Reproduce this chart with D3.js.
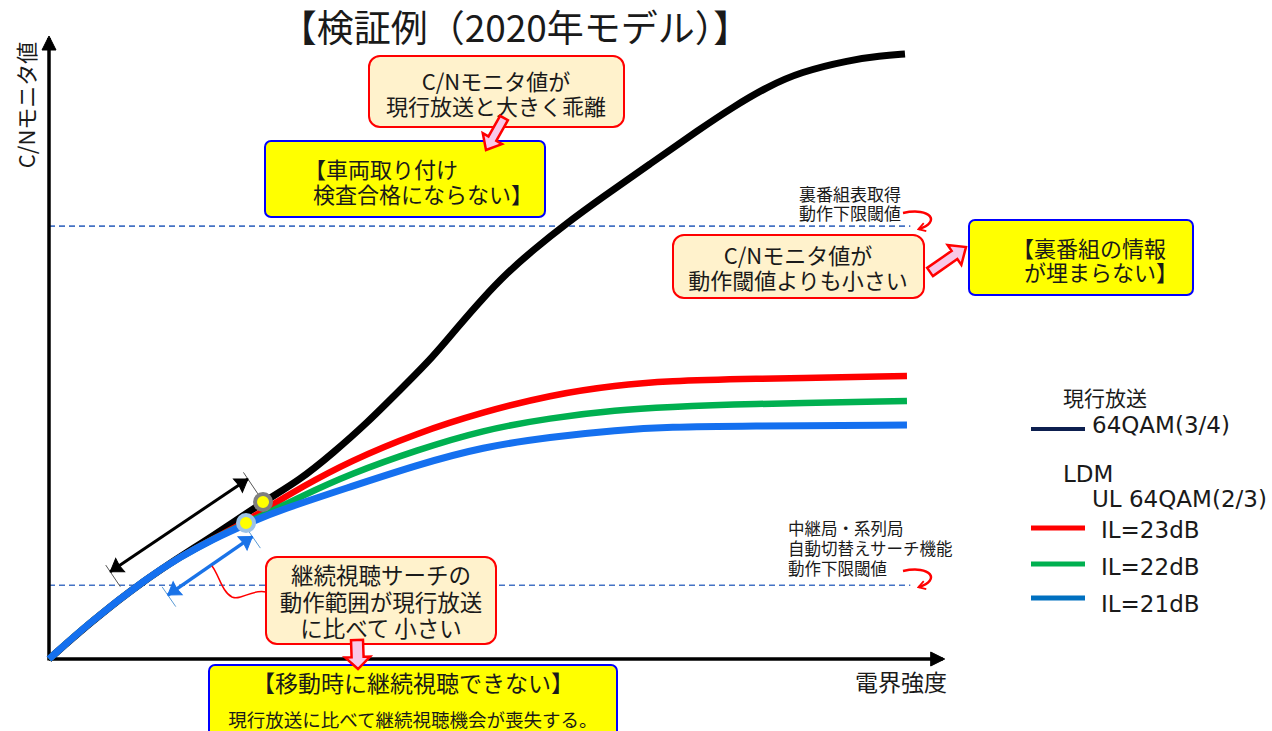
<!DOCTYPE html>
<html>
<head>
<meta charset="utf-8" />
<title>検証例（2020年モデル）</title>
<script src="https://cdn.jsdelivr.net/npm/d3@7"></script>
<style>
  body { margin: 0; background: #fff; }
  text { font-family: "Noto Sans CJK JP", "Noto Sans", sans-serif; fill: #1a1a1a; }
  text.lat { font-family: "DejaVu Sans", sans-serif; }
</style>
</head>
<body>
<div id="chart"></div>
<script>
// [電界強度, C/Nモニタ値] (arbitrary units)
var sharedLow = [[0, 0], [4.56, 4.11], [10.89, 9.0], [14.56, 11.33], [18.22, 13.33]];
var current64qam = [[0, 0], [4.56, 4.0], [9.0, 7.56], [13.44, 10.67], [18.22, 13.67], [23.78, 17.44],
  [27.89, 19.89], [31.56, 22.89], [35.33, 26.22], [39.0, 29.89], [42.67, 33.56], [45.33, 36.78],
  [48.22, 40.11], [50.89, 42.89], [53.78, 45.44], [57.56, 48.44], [61.22, 51.11], [66.78, 55.0],
  [72.33, 58.89], [76.0, 61.33], [79.78, 63.56], [83.44, 65.22], [89.0, 66.56], [92.33, 67.0], [95.11, 67.22]];
var ldmIL23 = sharedLow.concat([[21.89, 15.22], [24.56, 17.0], [27.89, 19.0], [33.44, 22.0], [40.89, 25.11],
  [48.22, 27.44], [55.67, 29.33], [63.11, 30.44], [69.0, 30.89], [76.78, 31.11], [95.33, 31.44]]);
var ldmIL22 = sharedLow.concat([[21.89, 15.11], [24.56, 16.33], [27.89, 18.0], [33.44, 20.56], [40.89, 23.22],
  [48.22, 25.44], [55.67, 26.78], [63.11, 27.67], [69.0, 28.0], [76.78, 28.33], [95.33, 28.67]]);
var ldmIL21 = sharedLow.concat([[21.89, 15.0], [25.67, 16.56], [33.44, 19.11], [40.89, 21.56], [48.22, 23.56],
  [55.67, 24.67], [63.11, 25.44], [69.0, 25.78], [76.78, 25.89], [95.33, 26.0]]);

var thresholds = [48.1, 8.2];          // 裏番組表取得 / サーチ機能 下限閾値
var thresholdEnd = 95.7;
var dots = [[23.78, 17.44, "#7f7f7f"], [21.89, 15.11, "#9dc3e6"]];
var blackRange = [[6.8, 9.7], [22.1, 20.0]];
var blueRange = [[13.2, 7.1], [22.6, 13.6]];

var legendLines = ["IL=23dB", "IL=22dB", "IL=21dB"];
var legendColors = ["#ff0000", "#00b050", "#0070c0"];
var legendLineY = [528, 564, 598];

var width = 1272, height = 731;
var svg = d3.select("#chart").append("svg").attr("width", width).attr("height", height);
var defs = svg.append("defs");

var x = d3.scaleLinear().domain([0, 100]).range([49, 949]);
var y = d3.scaleLinear().domain([0, 70]).range([659, 29]);

function addMarker(id, color, path, w, h) {
  defs.append("marker").attr("id", id).attr("viewBox", "-14 -10 16 20")
    .attr("refX", 0).attr("refY", 0).attr("markerWidth", w).attr("markerHeight", h)
    .attr("markerUnits", "userSpaceOnUse").attr("orient", "auto-start-reverse")
    .append("path").attr("d", path).attr("fill", color).attr("stroke", color);
}
addMarker("axisHead", "#000", "M-12,-7 L2,0 L-12,7 Z", 16, 20);
addMarker("chevBlack", "#000", "M-12,-8 L0,0 L-12,8 L-11,0 Z", 16, 20);
addMarker("chevBlue", "#1a73e8", "M-12,-8 L0,0 L-12,8 L-11,0 Z", 16, 20);
addMarker("hookRed", "#ff0000", "M-9,-6 L1,0 L-9,6", 12, 14);
defs.select("#hookRed path").attr("fill", "none").attr("stroke-width", 2.5);

// title
svg.append("text").attr("x", 515).attr("y", 42).attr("text-anchor", "middle")
  .style("font-size", "37px").text("【検証例（2020年モデル）】");

// threshold lines
svg.selectAll("line.thr").data(thresholds).enter().append("line").attr("class", "thr")
  .attr("x1", x(0)).attr("x2", x(thresholdEnd)).attr("y1", d => y(d)).attr("y2", d => y(d))
  .attr("stroke", "#4472c4").attr("stroke-width", 1.6).attr("stroke-dasharray", "6,4");

// axes
svg.append("line").attr("x1", x(0)).attr("y1", y(0)).attr("x2", x(99.3)).attr("y2", y(0))
  .attr("stroke", "#000").attr("stroke-width", 3.5).attr("marker-end", "url(#axisHead)");
svg.append("line").attr("x1", x(0)).attr("y1", y(0) + 1.5).attr("x2", x(0)).attr("y2", y(69))
  .attr("stroke", "#000").attr("stroke-width", 3.5).attr("marker-end", "url(#axisHead)");
svg.append("text").attr("x", 947).attr("y", 691).attr("text-anchor", "end")
  .style("font-size", "23px").text("電界強度");
svg.append("text").attr("transform", "translate(35,105) rotate(-90)").attr("text-anchor", "middle")
  .style("font-size", "22px").text("C/Nモニタ値");

// curves
var line = d3.line().x(d => x(d[0])).y(d => y(d[1])).curve(d3.curveBasis);
var curves = [[current64qam, "#000000", 7], [ldmIL23, "#ff0000", 6.5], [ldmIL22, "#00b050", 6.5], [ldmIL21, "#1570ef", 7]];
svg.selectAll("path.curve").data(curves).enter().append("path").attr("class", "curve")
  .attr("d", d => line(d[0])).attr("fill", "none").attr("stroke", d => d[1])
  .attr("stroke-width", d => d[2]).attr("stroke-linecap", "butt");

// range arrows with end ticks
function rangeArrow(r, color, marker, w, tickColor, a, b) {
  var p1 = [x(r[0][0]), y(r[0][1])], p2 = [x(r[1][0]), y(r[1][1])];
  var dx = p2[0] - p1[0], dy = p2[1] - p1[1], len = Math.hypot(dx, dy);
  var n = [-dy / len, dx / len];
  if (n[1] < 0) n = [-n[0], -n[1]];
  [p1, p2].forEach(function(p) {
    svg.append("line").attr("x1", p[0] - n[0] * a).attr("y1", p[1] - n[1] * a)
      .attr("x2", p[0] + n[0] * b).attr("y2", p[1] + n[1] * b)
      .attr("stroke", tickColor).attr("stroke-width", 1);
  });
  svg.append("line").attr("x1", p1[0]).attr("y1", p1[1]).attr("x2", p2[0]).attr("y2", p2[1])
    .attr("stroke", color).attr("stroke-width", w)
    .attr("marker-start", "url(#" + marker + ")").attr("marker-end", "url(#" + marker + ")");
}
rangeArrow(blackRange, "#000", "chevBlack", 3, "#555", 8, 18);
rangeArrow(blueRange, "#1a73e8", "chevBlue", 3.5, "#5b9bd5", 10, 14);

// dots
svg.selectAll("circle.dot").data(dots).enter().append("circle").attr("class", "dot")
  .attr("cx", d => x(d[0])).attr("cy", d => y(d[1])).attr("r", 8)
  .attr("fill", "#ffff00").attr("stroke", d => d[2]).attr("stroke-width", 4);

// boxes
function box(x0, y0, w, h, kind) {
  svg.append("rect").attr("x", x0).attr("y", y0).attr("width", w).attr("height", h)
    .attr("rx", kind == "note" ? 11 : 6)
    .attr("fill", kind == "note" ? "#fff2cc" : "#ffff00")
    .attr("stroke", kind == "note" ? "#ff0000" : "#0000ff").attr("stroke-width", 2);
}
function lines(xp, ys, texts, size, anchor) {
  texts.forEach(function(t, i) {
    svg.append("text").attr("x", Array.isArray(xp) ? xp[i] : xp).attr("y", ys[i])
      .attr("text-anchor", anchor || "middle").style("font-size", size + "px").text(t);
  });
}
function blockArrow(x1, y1, x2, y2, sw, hw, hl) {
  var dx = x2 - x1, dy = y2 - y1, len = Math.hypot(dx, dy);
  var u = [dx / len, dy / len], n = [-u[1], u[0]];
  var nx = x2 - u[0] * hl, ny = y2 - u[1] * hl;
  var pts = [[x1 + n[0] * sw, y1 + n[1] * sw], [nx + n[0] * sw, ny + n[1] * sw], [nx + n[0] * hw, ny + n[1] * hw],
    [x2, y2], [nx - n[0] * hw, ny - n[1] * hw], [nx - n[0] * sw, ny - n[1] * sw], [x1 - n[0] * sw, y1 - n[1] * sw]];
  svg.append("path").attr("d", "M" + pts.join("L") + "Z")
    .attr("fill", "#f8c8e8").attr("stroke", "#ff0000").attr("stroke-width", 2.5).attr("stroke-linejoin", "miter");
}
function hook(x0, y0) {
  svg.append("path").attr("d", "M" + x0 + "," + y0 + " C" + (x0 + 28) + "," + (y0 - 6) + " " + (x0 + 38) + "," + (y0 + 9) + " " + (x0 + 16) + "," + (y0 + 16))
    .attr("fill", "none").attr("stroke", "#ff0000").attr("stroke-width", 2.5).attr("marker-end", "url(#hookRed)");
}

box(369, 56, 255, 71, "note");
lines(496, [90, 115], ["C/Nモニタ値が", "現行放送と大きく乖離"], 22);
box(265, 141, 280, 76, "alert");
lines([304, 313], [178, 203], ["【車両取り付け", "検査合格にならない】"], 22, "start");
blockArrow(504, 118, 486, 150, 4.5, 11, 13);

lines(901, [201, 220], ["裏番組表取得", "動作下限閾値"], 17, "end");
hook(903, 213);
box(673, 235, 251, 63, "note");
lines(798, [264, 289], ["C/Nモニタ値が", "動作閾値よりも小さい"], 22);
blockArrow(930, 272, 966, 247, 5, 12, 14);
box(969, 220, 224, 75, "alert");
lines([1012, 1024], [257, 281], ["【裏番組の情報", "が埋まらない】"], 22, "start");

lines(788, [535, 555, 575], ["中継局・系列局", "自動切替えサーチ機能", "動作下限閾値"], 16.5, "start");
hook(903, 571);

// callout from box to blue range
svg.append("path").attr("d", "M266,592 C250,589 242,601 232,597 C222,592 219,575 212,566")
  .attr("fill", "none").attr("stroke", "#ff0000").attr("stroke-width", 1.5);
box(266, 557, 230, 87, "note");
lines(381, [584, 611, 637], ["継続視聴サーチの", "動作範囲が現行放送", "に比べて 小さい"], 22.5);
box(209, 665, 408, 80, "alert");
blockArrow(357, 640, 358, 669, 6, 12.5, 12);
lines(413, [692], ["【移動時に継続視聴できない】"], 23);
lines(413, [727], ["現行放送に比べて継続視聴機会が喪失する。"], 18.5);

// legend
var leg = svg.append("g");
leg.append("text").attr("x", 1063).attr("y", 406).style("font-size", "21px").text("現行放送");
leg.append("line").attr("x1", 1031).attr("x2", 1085).attr("y1", 429).attr("y2", 429)
  .attr("stroke", "#0d1f4f").attr("stroke-width", 4);
leg.append("text").attr("class", "lat").attr("x", 1092).attr("y", 433).style("font-size", "23px").text("64QAM(3/4)");
leg.append("text").attr("class", "lat").attr("x", 1063).attr("y", 482).style("font-size", "23px").text("LDM");
leg.append("text").attr("class", "lat").attr("x", 1092).attr("y", 507).style("font-size", "23px").text("UL 64QAM(2/3)");
leg.selectAll("line.ldm").data(legendLines).enter().append("line").attr("class", "ldm")
  .attr("x1", 1031).attr("x2", 1085).attr("y1", (d, i) => legendLineY[i]).attr("y2", (d, i) => legendLineY[i])
  .attr("stroke", (d, i) => legendColors[i]).attr("stroke-width", 5);
leg.selectAll("text.ldm").data(legendLines).enter().append("text").attr("class", "ldm lat")
  .attr("x", 1101).attr("y", (d, i) => 538 + i * 37).style("font-size", "23px").text(d => d);
</script>
</body>
</html>
